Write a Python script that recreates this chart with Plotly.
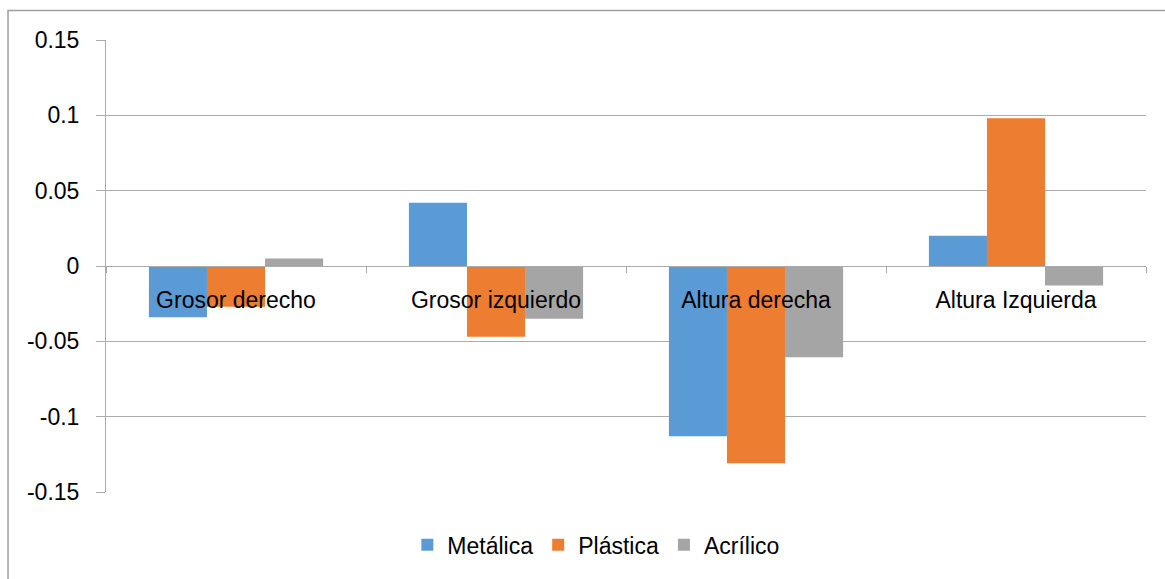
import plotly.graph_objects as go

categories = ["Grosor derecho", "Grosor izquierdo", "Altura derecha", "Altura Izquierda"]
metalica = [-0.034, 0.042, -0.113, 0.020]
plastica = [-0.027, -0.047, -0.131, 0.098]
acrilico = [0.005, -0.035, -0.0605, -0.013]
series_names = ["Metálica", "Plástica", "Acrílico"]
colors = ["#5B9BD5", "#ED7D31", "#A5A5A5"]
y_ticks = [-0.15, -0.1, -0.05, 0, 0.05, 0.1, 0.15]
y_tick_labels = ["-0.15", "-0.1", "-0.05", "0", "0.05", "0.1", "0.15"]

FONT = "Liberation Sans, Arial, sans-serif"
GRID = "#ABABAB"
FS = 23

fig = go.Figure()
for name, vals, col in zip(series_names, [metalica, plastica, acrilico], colors):
    fig.add_trace(go.Bar(x=categories, y=vals, name=name, marker=dict(color=col, line=dict(width=0))))

fig.update_layout(
    width=1165, height=579,
    margin=dict(l=106, r=19, t=40, b=87),
    paper_bgcolor="white", plot_bgcolor="white",
    barmode="group", bargap=0.33, bargroupgap=0,
    font=dict(family=FONT, size=FS, color="#000000"),
    showlegend=True,
    legend=dict(orientation="h", x=0.471, xanchor="center", y=-0.117, yanchor="middle",
                font=dict(size=FS), itemwidth=30, traceorder="normal"),
    xaxis=dict(anchor="free", position=0.5, showline=True, linecolor=GRID, linewidth=1,
               ticks="outside", ticklen=6, tickcolor=GRID, tickson="boundaries",
               showgrid=False, ticklabelstandoff=13, tickfont=dict(size=FS)),
    yaxis=dict(range=[-0.15, 0.15], tickvals=y_ticks, ticktext=y_tick_labels,
               showgrid=True, gridcolor=GRID, gridwidth=1,
               zeroline=True, zerolinecolor=GRID, zerolinewidth=1,
               showline=True, linecolor=GRID, linewidth=1,
               ticks="outside", ticklen=9, tickcolor=GRID, ticklabelstandoff=12,
               tickfont=dict(size=FS)),
    shapes=[dict(type="rect", xref="paper", yref="paper", x0=-0.0942, x1=1.2, y0=-0.4, y1=1.0652,
                 line=dict(color="#A0A0A0", width=1.5), fillcolor="rgba(0,0,0,0)", layer="below")],
)

fig.write_html("out.html")
